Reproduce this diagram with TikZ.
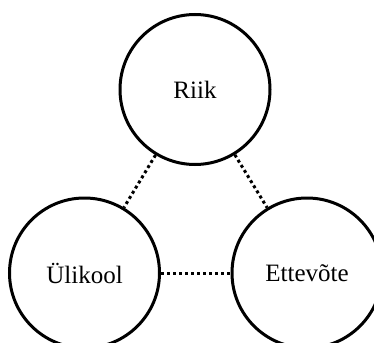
\documentclass[tikz,border=0pt]{standalone}
\usepackage{fontspec}
\setmainfont{Liberation Serif}
\begin{document}
\begin{tikzpicture}[x=1pt,y=-1pt,
  actor/.style={draw=black,line width=3pt,circle,minimum size=150pt,inner sep=0pt,font=\fontsize{25}{30}\selectfont},
  link/.style={line width=3pt,dash pattern=on 3pt off 3pt}]
\useasboundingbox (0,0) rectangle (374,342);
\node[actor] (riik) at (195,89.5) {Riik};
\node[actor] (ylikool) at (84.5,273) {Ülikool};
\node[actor] (ettevote) at (307,273) {Ettevõte};
\draw[link] (riik) -- (ylikool);
\draw[link] (riik) -- (ettevote);
\draw[link] (ylikool) -- (ettevote);
\end{tikzpicture}
\end{document}
